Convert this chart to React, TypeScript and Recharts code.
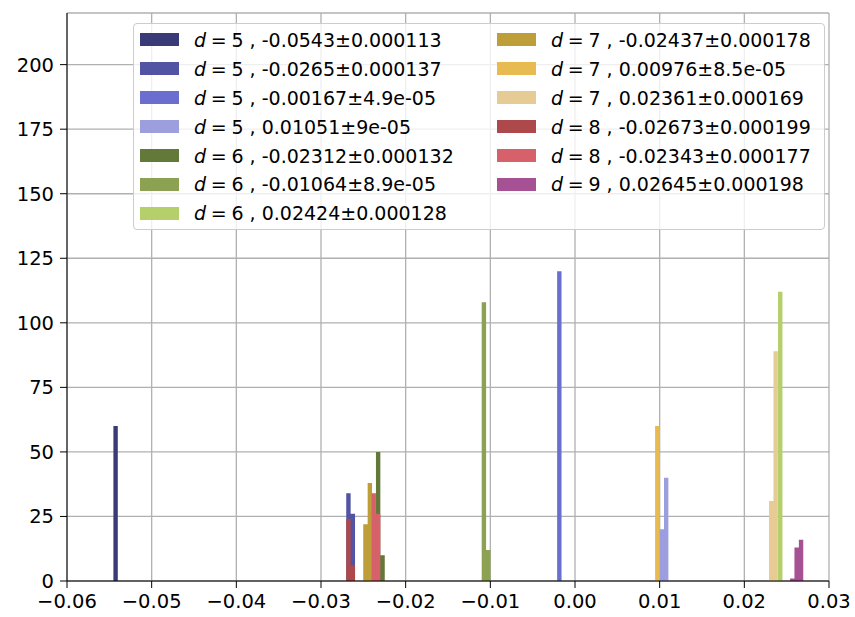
import { ComposedChart, Area, XAxis, YAxis, CartesianGrid } from "recharts"

// one histogram per (d, mean) group, bins
const dValues = [5, 5, 5, 5, 6, 6, 6, 7, 7, 7, 8, 8, 9]
const means = ["-0.0543", "-0.0265", "-0.00167", "0.01051", "-0.02312", "-0.01064", "0.02424", "-0.02437", "0.00976", "0.02361", "-0.02673", "-0.02343", "0.02645"]
const errors = ["0.000113", "0.000137", "4.9e-05", "9e-05", "0.000132", "8.9e-05", "0.000128", "0.000178", "8.5e-05", "0.000169", "0.000199", "0.000177", "0.000198"]
const binStarts = [-0.05452, -0.02702, -0.00211, 0.00999, -0.02351, -0.01102, 0.02398, -0.02501, 0.00946, 0.02292, -0.02702, -0.02403, 0.0254]
const binCounts = [[60], [34, 26], [120], [20, 40], [50, 10], [108, 12], [112], [22, 38], [60], [31, 89], [24, 6], [34, 26], [1, 13, 16]]
const BIN_WIDTH = 0.00052

const xTicks = [-0.06, -0.05, -0.04, -0.03, -0.02, -0.01, 0, 0.01, 0.02, 0.03]
const yTicks = [0, 25, 50, 75, 100, 125, 150, 175, 200]

// tab20b
const colors = ["#393b79", "#5254a3", "#6b6ecf", "#9c9ede", "#637939", "#8ca252", "#b5cf6b", "#bd9e39", "#e7ba52", "#e7cb94", "#ad494a", "#d6616b", "#a55194"]

const FONT = "'DejaVu Sans', sans-serif"

// step points: left edge of every bin, then the closing right edge
function histPoints(start: number, counts: number[]) {
    const pts = counts.map((c, i) => ({ x: start + i * BIN_WIDTH, y: c }))
    pts.push({ x: start + counts.length * BIN_WIDTH, y: 0 })
    return pts
}

const fmtX = (v: number) => {
    const s = Math.abs(v).toFixed(2)
    return v < -1e-9 ? "\u2212" + s : s
}

function LegendBox() {
    const rowH = 28.9
    return (
        <div
            style={{
                position: "absolute",
                left: 133,
                top: 23,
                width: 692,
                height: 207,
                border: "1px solid #cccccc",
                borderRadius: 4,
                background: "rgba(255,255,255,0.8)",
                boxSizing: "border-box",
                fontFamily: FONT,
                fontSize: 19,
                color: "#000",
            }}
        >
            {dValues.map((d, i) => {
                const col = i < 7 ? 0 : 1
                const row = col === 0 ? i : i - 7
                return (
                    <div
                        key={i}
                        style={{
                            position: "absolute",
                            left: col === 0 ? 6 : 363,
                            top: 1.5 + row * rowH,
                            height: rowH,
                            display: "flex",
                            alignItems: "center",
                            whiteSpace: "nowrap",
                        }}
                    >
                        <span style={{ display: "inline-block", width: 39, height: 13, background: colors[i], marginRight: 15 }} />
                        <span>
                            <i>d</i>{"\u2005=\u2005"}{d} , {means[i]}±{errors[i]}
                        </span>
                    </div>
                )
            })}
        </div>
    )
}

export default function App() {
    return (
        <div style={{ position: "relative", width: 855, height: 617, background: "#fff" }}>
            <style>{"body{margin:0}"}</style>
            <ComposedChart width={855} height={617} margin={{ top: 13, right: 26, bottom: 0, left: 0 }}>
                <CartesianGrid stroke="#b0b0b0" strokeWidth={1.3} />
                <XAxis
                    type="number"
                    dataKey="x"
                    domain={[-0.06, 0.03]}
                    ticks={xTicks}
                    tickFormatter={fmtX}
                    allowDataOverflow
                    height={36}
                    stroke="#000"
                    tickSize={7}
                    tickMargin={6}
                    tick={{ fill: "#000", fontSize: 19.5, fontFamily: FONT }}
                />
                <XAxis
                    xAxisId="top"
                    orientation="top"
                    type="number"
                    domain={[-0.06, 0.03]}
                    height={0}
                    tick={false}
                    tickLine={false}
                    stroke="#000"
                />
                <YAxis
                    type="number"
                    domain={[0, 220]}
                    ticks={yTicks}
                    allowDataOverflow
                    width={67}
                    stroke="#000"
                    tickSize={7}
                    tickMargin={6}
                    tick={{ fill: "#000", fontSize: 19.5, fontFamily: FONT }}
                />
                <YAxis
                    yAxisId="right"
                    orientation="right"
                    type="number"
                    domain={[0, 220]}
                    width={0}
                    tick={false}
                    tickLine={false}
                    stroke="#000"
                />
                {binCounts.map((counts, i) => (
                    <Area
                        key={i}
                        data={histPoints(binStarts[i], counts)}
                        dataKey="y"
                        type="stepAfter"
                        fill={colors[i]}
                        fillOpacity={1}
                        stroke="none"
                        dot={false}
                        activeDot={false}
                        isAnimationActive={false}
                    />
                ))}
            </ComposedChart>
            <LegendBox />
        </div>
    )
}
